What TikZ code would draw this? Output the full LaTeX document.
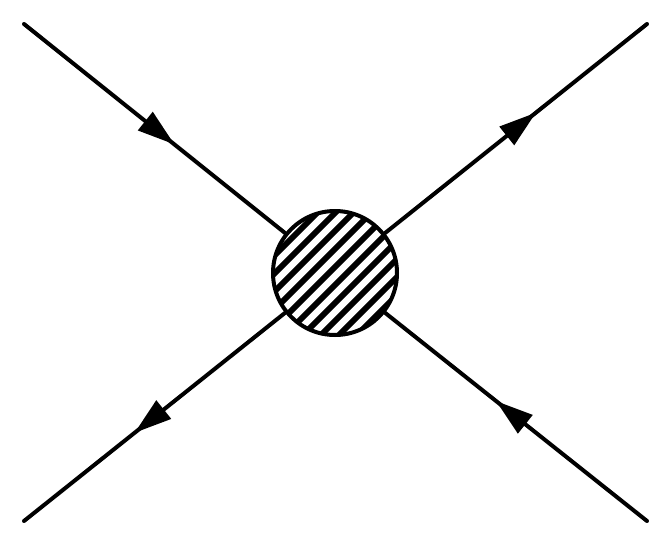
\documentclass[tikz,border=0pt]{standalone}
\usetikzlibrary{decorations.markings}
\tikzset{
  leg/.style={line width=3pt, line cap=round},
  arrowmid/.style={postaction={decorate}, decoration={markings,
      mark=at position 0.52 with {\fill (13.9pt,0pt) -- (-13.9pt,9pt) -- (-13.9pt,-9pt) -- cycle;}}},
  blob/.style={circle, draw, line width=3pt, minimum size=93pt, inner sep=0pt, fill=white,
      path picture={\foreach \k in {-8,...,8}{
          \draw[line width=4.3pt] ([shift={(\k*13.5pt-4.5pt-75pt,-75pt)}]path picture bounding box.center) -- ++(150pt,150pt);}}}
}
\begin{document}
\begin{tikzpicture}[x=0.75pt,y=-0.75pt]
\useasboundingbox (0,0) rectangle (671,546);
\node[blob] (c) at (335,273) {};
\coordinate (tl) at (24,24);
\coordinate (tr) at (647,24);
\coordinate (bl) at (24,521);
\coordinate (br) at (647,521);
\draw[leg, arrowmid] (tl) -- (c);
\draw[leg, arrowmid] (c) -- (tr);
\draw[leg, arrowmid] (c) -- (bl);
\draw[leg, arrowmid] (br) -- (c);
\end{tikzpicture}
\end{document}
